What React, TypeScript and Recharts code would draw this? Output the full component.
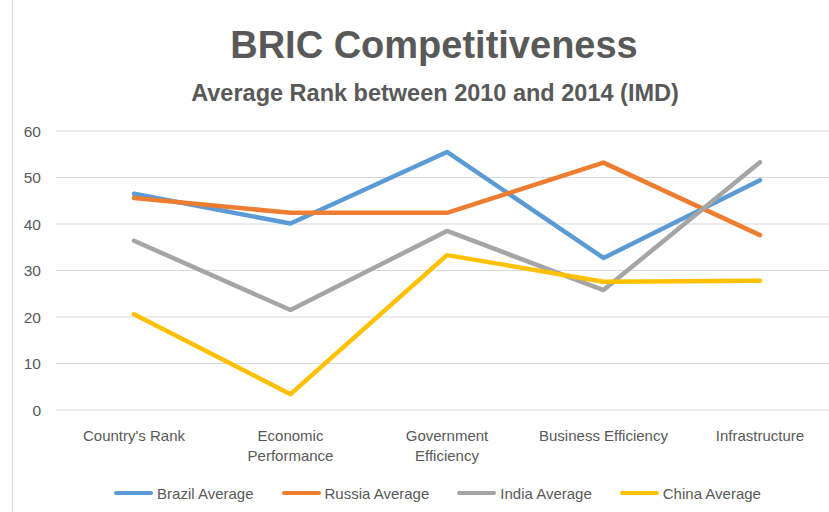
import { LineChart, Line, XAxis, YAxis, CartesianGrid } from 'recharts';

const categories = ["Country's Rank", 'Economic\nPerformance', 'Government\nEfficiency', 'Business Efficiency', 'Infrastructure'];
const brazil = [46.5, 40.1, 55.5, 32.7, 49.4];
const russia = [45.6, 42.4, 42.4, 53.2, 37.6];
const india = [36.4, 21.5, 38.5, 25.8, 53.3];
const china = [20.6, 3.4, 33.3, 27.6, 27.8];
const yTicks = [0, 10, 20, 30, 40, 50, 60];

const series = [
  { key: 'brazil', name: 'Brazil Average', color: '#5B9BD5' },
  { key: 'russia', name: 'Russia Average', color: '#ED7D31' },
  { key: 'india', name: 'India Average', color: '#A5A5A5' },
  { key: 'china', name: 'China Average', color: '#FFC000' },
];

const data = categories.map((c, i) => ({
  category: c,
  brazil: brazil[i],
  russia: russia[i],
  india: india[i],
  china: china[i],
}));

const FONT = '"Liberation Sans", Arial, sans-serif';
const TEXT = '#595959';

function CategoryTick(props: any) {
  const { x, y, payload } = props;
  const lines = String(payload.value).split('\n');
  return (
    <text x={x} y={y} textAnchor="middle" fill={TEXT} fontSize={15} fontFamily={FONT}>
      {lines.map((l, i) => (
        <tspan key={i} x={x} dy={i === 0 ? 29 : 20}>
          {l}
        </tspan>
      ))}
    </text>
  );
}

function ChartLegend() {
  return (
    <div
      style={{
        position: 'absolute', left: 0, top: 483, width: 875, height: 20,
        display: 'flex', justifyContent: 'center', alignItems: 'center',
        fontFamily: FONT, fontSize: 15, color: TEXT, whiteSpace: 'nowrap',
      }}
    >
      {series.map((s, i) => (
        <div key={s.key} style={{ display: 'flex', alignItems: 'center', marginLeft: i === 0 ? 0 : 28 }}>
          <span style={{ display: 'inline-block', width: 39, height: 4, borderRadius: 2, background: s.color, marginRight: 4 }} />
          <span>{s.name}</span>
        </div>
      ))}
    </div>
  );
}

export default function App() {
  return (
    <div style={{ position: 'absolute', left: 0, top: 0, width: 829, height: 512, overflow: 'hidden', background: '#fff' }}>
      <div style={{ position: 'absolute', left: 12, top: 0, width: 1, height: 512, background: '#D9D9D9' }} />
      <div
        style={{
          position: 'absolute', left: 0, top: 23, width: 868, textAlign: 'center',
          fontFamily: FONT, fontWeight: 'bold', fontSize: 38, color: TEXT, lineHeight: '44px',
        }}
      >
        BRIC Competitiveness
      </div>
      <div
        style={{
          position: 'absolute', left: 0, top: 79, width: 870, textAlign: 'center',
          fontFamily: FONT, fontWeight: 'bold', fontSize: 23.5, color: TEXT, lineHeight: '28px',
        }}
      >
        Average Rank between 2010 and 2014 (IMD)
      </div>
      <LineChart
        width={840}
        height={512}
        data={data}
        margin={{ top: 131, right: 2, bottom: 0, left: 0 }}
        style={{ position: 'absolute', left: 0, top: 0 }}
      >
        <CartesianGrid vertical={false} stroke="#D9D9D9" strokeWidth={1} />
        <XAxis
          dataKey="category"
          interval={0}
          axisLine={false}
          tickLine={false}
          tickSize={0}
          height={102}
          padding={{ left: 78, right: 78 }}
          tick={<CategoryTick />}
        />
        <YAxis
          domain={[0, 60]}
          ticks={yTicks}
          width={56}
          axisLine={false}
          tickLine={false}
          tickSize={0}
          tickMargin={15}
          tick={{ fill: TEXT, fontSize: 15.5, fontFamily: FONT }}
        />
        {series.map((s) => (
          <Line
            key={s.key}
            dataKey={s.key}
            name={s.name}
            stroke={s.color}
            strokeWidth={4.5}
            dot={false}
            activeDot={false}
            isAnimationActive={false}
            strokeLinejoin="round"
            strokeLinecap="round"
          />
        ))}
      </LineChart>
      <ChartLegend />
    </div>
  );
}
